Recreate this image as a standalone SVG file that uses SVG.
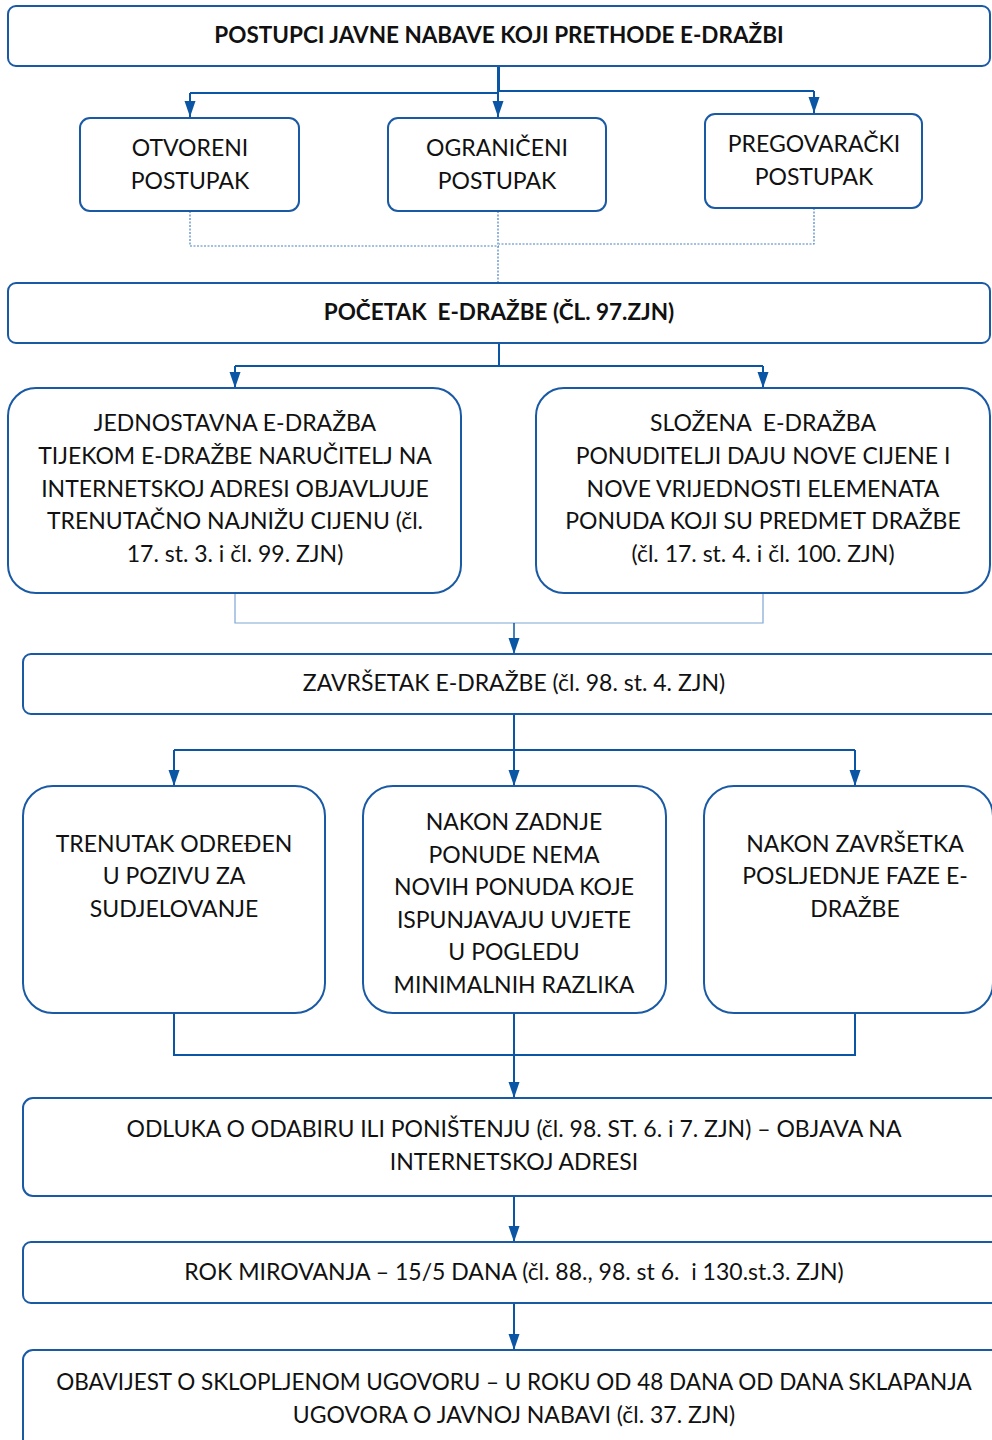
<svg xmlns="http://www.w3.org/2000/svg" width="992" height="1440" viewBox="0 0 992 1440">
<defs>
<marker id="ah" viewBox="0 0 16 12" refX="16" refY="6" markerWidth="16" markerHeight="12" markerUnits="userSpaceOnUse" orient="auto"><path d="M0,0.5 L16,6 L0,11.5 Z" fill="#0b56a4"/></marker>
<style>
.box{fill:#fff;stroke:#1a5aa5;stroke-width:2}
.t{font-family:Lato,"Open Sans",sans-serif;font-size:23px;fill:#111;text-anchor:middle;white-space:pre}
.b{font-weight:bold;font-size:22.5px}
.c{fill:none;stroke:#0b56a4;stroke-width:2}
.thin{fill:none;stroke:#7fa6d4;stroke-width:1.2}
.dot{fill:none;stroke:#4a82c3;stroke-width:1.2;stroke-dasharray:2 1.5}
</style>
</defs>
<rect width="992" height="1440" fill="#fff"/>
<g id="connectors">
<path class="c" d="M499,66 V92 M190,93 H499 M499,91 H814"/>
<path class="c" d="M190,93 V117" marker-end="url(#ah)"/>
<path class="c" d="M498,66 V117" marker-end="url(#ah)"/>
<path class="c" d="M814,91 V113" marker-end="url(#ah)"/>
<path class="dot" d="M190,211 V246 H499 M814,208 V244 H499 M498,211 V283"/>
<path class="c" d="M499,343 V366 H235 M499,366 H763"/>
<path class="c" d="M235,366 V388" marker-end="url(#ah)"/>
<path class="c" d="M763,366 V388" marker-end="url(#ah)"/>
<path class="thin" d="M235,593 V623 H763 V593"/>
<path class="c" d="M514,623 V654" marker-end="url(#ah)" style="stroke-width:1.5"/>
<path class="c" d="M514,714 V750 M174,750 H855"/>
<path class="c" d="M174,750 V786" marker-end="url(#ah)"/>
<path class="c" d="M514,750 V786" marker-end="url(#ah)"/>
<path class="c" d="M855,750 V786" marker-end="url(#ah)"/>
<path class="c" d="M174,1013 V1055 H855 V1013"/>
<path class="c" d="M514,1013 V1098" marker-end="url(#ah)"/>
<path class="c" d="M514,1196 V1242" marker-end="url(#ah)"/>
<path class="c" d="M514,1303 V1350" marker-end="url(#ah)"/>
</g>
<g id="n1"><rect class="box" x="8" y="6" width="982" height="60" rx="8"/><text class="t b" x="499" y="43">POSTUPCI JAVNE NABAVE KOJI PRETHODE E-DRAŽBI</text></g>
<g id="n2"><rect class="box" x="80" y="118" width="219" height="93" rx="10"/><text class="t" x="190" y="156">OTVORENI</text><text class="t" x="190" y="189">POSTUPAK</text></g>
<g id="n3"><rect class="box" x="388" y="118" width="218" height="93" rx="10"/><text class="t" x="497" y="156">OGRANIČENI</text><text class="t" x="497" y="189">POSTUPAK</text></g>
<g id="n4"><rect class="box" x="705" y="114" width="217" height="94" rx="10"/><text class="t" x="814" y="152">PREGOVARAČKI</text><text class="t" x="814" y="185">POSTUPAK</text></g>
<g id="n5"><rect class="box" x="8" y="283" width="982" height="60" rx="8"/><text class="t b" x="499" y="320" xml:space="preserve">POČETAK  E-DRAŽBE (ČL. 97.ZJN)</text></g>
<g id="n6"><rect class="box" x="8" y="388" width="453" height="205" rx="28"/>
<text class="t" x="235" y="431">JEDNOSTAVNA E-DRAŽBA</text>
<text class="t" x="235" y="464">TIJEKOM E-DRAŽBE NARUČITELJ NA</text>
<text class="t" x="235" y="497">INTERNETSKOJ ADRESI OBJAVLJUJE</text>
<text class="t" x="235" y="529">TRENUTAČNO NAJNIŽU CIJENU (čl.</text>
<text class="t" x="235" y="562">17. st. 3. i čl. 99. ZJN)</text></g>
<g id="n7"><rect class="box" x="536" y="388" width="454" height="205" rx="28"/>
<text class="t" x="763" y="431" xml:space="preserve">SLOŽENA  E-DRAŽBA</text>
<text class="t" x="763" y="464">PONUDITELJI DAJU NOVE CIJENE I</text>
<text class="t" x="763" y="497">NOVE VRIJEDNOSTI ELEMENATA</text>
<text class="t" x="763" y="529">PONUDA KOJI SU PREDMET DRAŽBE</text>
<text class="t" x="763" y="562">(čl. 17. st. 4. i čl. 100. ZJN)</text></g>
<g id="n8"><rect class="box" x="23" y="654" width="990" height="60" rx="8"/><text class="t" x="514" y="691">ZAVRŠETAK E-DRAŽBE (čl. 98. st. 4. ZJN)</text></g>
<g id="n9"><rect class="box" x="23" y="786" width="302" height="227" rx="30"/>
<text class="t" x="174" y="852">TRENUTAK ODREĐEN</text>
<text class="t" x="174" y="884">U POZIVU ZA</text>
<text class="t" x="174" y="917">SUDJELOVANJE</text></g>
<g id="n10"><rect class="box" x="363" y="786" width="303" height="227" rx="30"/>
<text class="t" x="514" y="830">NAKON ZADNJE</text>
<text class="t" x="514" y="863">PONUDE NEMA</text>
<text class="t" x="514" y="895">NOVIH PONUDA KOJE</text>
<text class="t" x="514" y="928">ISPUNJAVAJU UVJETE</text>
<text class="t" x="514" y="960">U POGLEDU</text>
<text class="t" x="514" y="993">MINIMALNIH RAZLIKA</text></g>
<g id="n11"><rect class="box" x="704" y="786" width="289" height="227" rx="30"/>
<text class="t" x="855" y="852">NAKON ZAVRŠETKA</text>
<text class="t" x="855" y="884">POSLJEDNJE FAZE E-</text>
<text class="t" x="855" y="917">DRAŽBE</text></g>
<g id="n12"><rect class="box" x="23" y="1098" width="990" height="98" rx="10"/>
<text class="t" x="514" y="1137">ODLUKA O ODABIRU ILI PONIŠTENJU (čl. 98. ST. 6. i 7. ZJN) – OBJAVA NA</text>
<text class="t" x="514" y="1170">INTERNETSKOJ ADRESI</text></g>
<g id="n13"><rect class="box" x="23" y="1242" width="990" height="61" rx="8"/><text class="t" x="514" y="1280" xml:space="preserve">ROK MIROVANJA – 15/5 DANA (čl. 88., 98. st 6.  i 130.st.3. ZJN)</text></g>
<g id="n14"><rect class="box" x="23" y="1350" width="990" height="120" rx="10"/>
<text class="t" x="514" y="1390" style="font-size:22.5px">OBAVIJEST O SKLOPLJENOM UGOVORU – U ROKU OD 48 DANA OD DANA SKLAPANJA</text>
<text class="t" x="514" y="1423">UGOVORA O JAVNOJ NABAVI (čl. 37. ZJN)</text></g>
</svg>
